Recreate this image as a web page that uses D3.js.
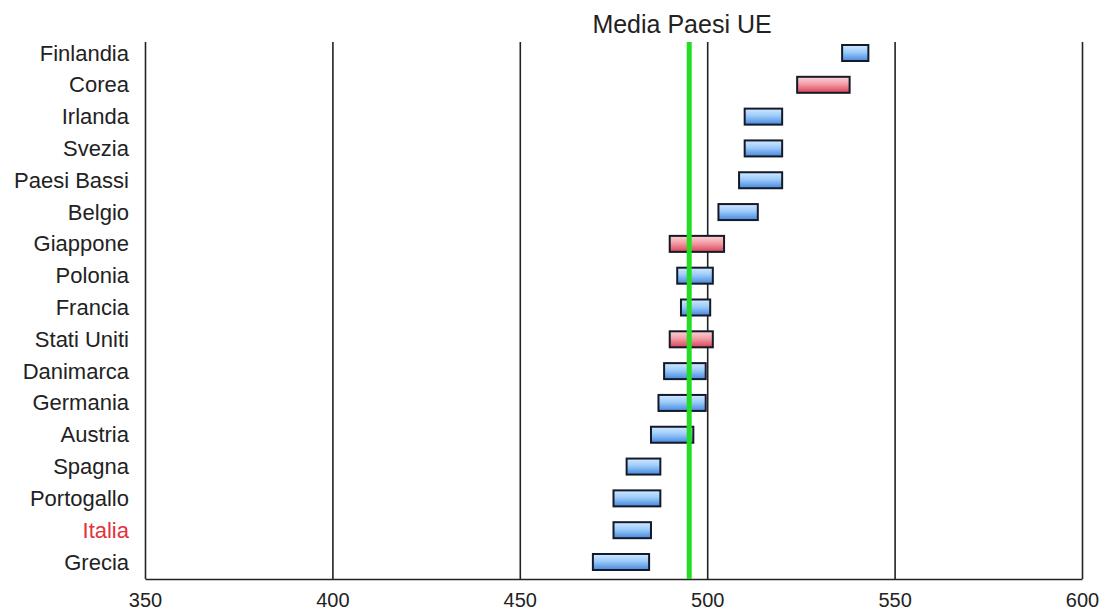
<!DOCTYPE html>
<html>
<head>
<meta charset="utf-8">
<script src="https://cdn.jsdelivr.net/npm/d3@7"></script>
<style>
  body { margin: 0; background: #fff; }
  text { font-family: "Liberation Sans", Arial, sans-serif; }
</style>
</head>
<body>
<div id="chart"></div>
<script>
    // Data
    countries = ["Finlandia", "Corea", "Irlanda", "Svezia", "Paesi Bassi", "Belgio", "Giappone", "Polonia",
                 "Francia", "Stati Uniti", "Danimarca", "Germania", "Austria", "Spagna", "Portogallo", "Italia", "Grecia"]
    low  = [536, 524, 510, 510, 508.5, 503, 490, 492, 493, 490, 488.5, 487, 485, 478.5, 475, 475, 469.5]
    high = [543, 538, 520, 520, 520, 513.5, 504.5, 501.5, 500.8, 501.5, 499.6, 499.6, 496.3, 487.5, 487.5, 485, 484.5]
    nonEU = ["Corea", "Giappone", "Stati Uniti"]
    euMean = 495.2
    euLabel = "Media Paesi UE"
    xTicks = [350, 400, 450, 500, 550, 600]

    canvas = ({width: 1110, height: 611})
    plot = ({top: 42, bottom: 579, left: 145, right: 1082})

    data = countries.map((c, i) => ({name: c, lo: low[i], hi: high[i], red: nonEU.includes(c)}))

    x = d3.scaleLinear()
        .domain([350, 600])
        .range([plot.left, plot.right])

    y = d3.scalePoint()
        .domain(countries)
        .range([53, 562])

    var svg = d3.select("#chart").append("svg")
        .attr("width", canvas.width)
        .attr("height", canvas.height)

    // gradients for bars
    defs = svg.append("defs")
    grad = (id, stops) => {
        g = defs.append("linearGradient").attr("id", id)
            .attr("x1", 0).attr("y1", 0).attr("x2", 0).attr("y2", 1)
        stops.forEach(s => g.append("stop").attr("offset", s[0]).attr("stop-color", s[1]))
    }
    grad("blue", [[0, "#d2e9ff"], [0.45, "#9ccbfa"], [1, "#4688da"]])
    grad("red", [[0, "#fdd2d7"], [0.45, "#f29ea7"], [1, "#d84257"]])

    // x axis with full-height grid lines
    gx = svg.append("g")
        .attr("transform", `translate(0,${plot.bottom})`)
        .call(d3.axisBottom(x).tickValues(xTicks).tickSizeInner(-(plot.bottom - plot.top)).tickSizeOuter(0).tickPadding(14))
    gx.selectAll("line").attr("stroke", "#222").attr("stroke-width", 1.6)
    gx.select(".domain").attr("stroke", "#222").attr("stroke-width", 1.6)
    gx.selectAll("text").attr("font-size", 20).attr("fill", "#222")

    // y axis labels
    gy = svg.append("g")
        .attr("transform", `translate(${plot.left},0)`)
        .call(d3.axisLeft(y).tickSize(0).tickPadding(16))
    gy.select(".domain").remove()
    gy.selectAll("text")
        .attr("font-size", 22)
        .attr("fill", d => d === "Italia" ? "#e2323c" : "#222")

    // bars
    svg.append("g").selectAll("rect")
        .data(data)
        .join("rect")
        .attr("x", d => x(d.lo))
        .attr("y", d => y(d.name) - 8)
        .attr("width", d => x(d.hi) - x(d.lo))
        .attr("height", 16)
        .attr("fill", d => d.red ? "url(#red)" : "url(#blue)")
        .attr("stroke", "#141a2a")
        .attr("stroke-width", 2)

    // EU mean line
    svg.append("line")
        .attr("x1", x(euMean)).attr("x2", x(euMean))
        .attr("y1", plot.top).attr("y2", plot.bottom)
        .attr("stroke", "#22dd22")
        .attr("stroke-width", 5)

    svg.append("text")
        .attr("x", 682)
        .attr("y", 33)
        .attr("text-anchor", "middle")
        .attr("font-size", 25)
        .attr("fill", "#222")
        .text(euLabel)
</script>
</body>
</html>
